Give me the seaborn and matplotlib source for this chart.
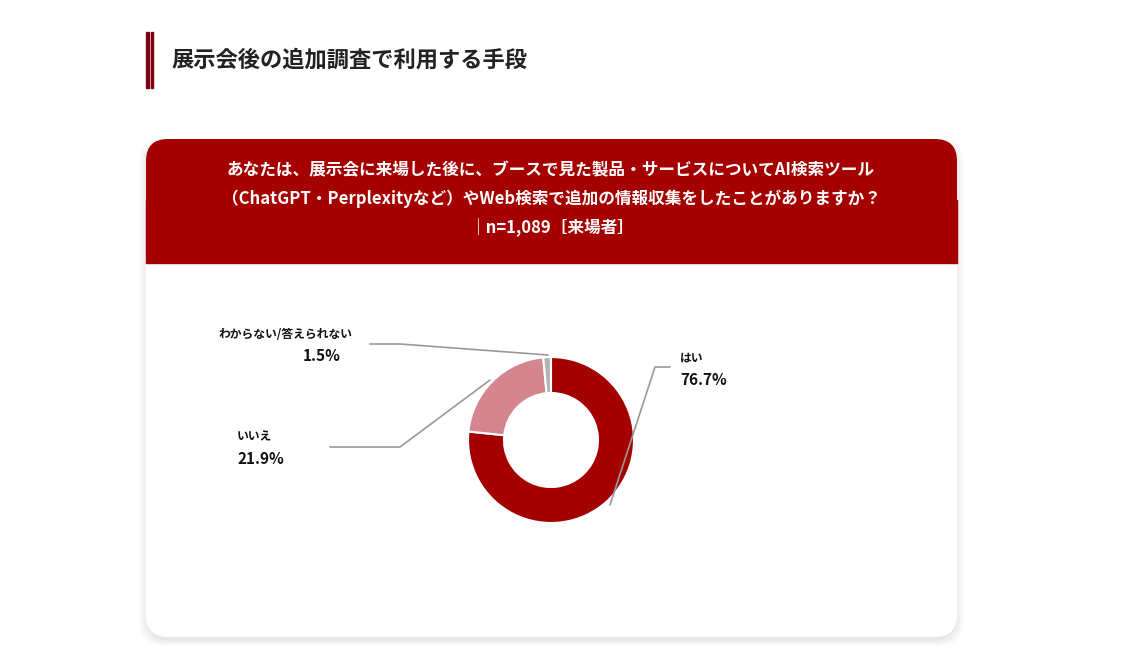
import matplotlib
matplotlib.use("Agg")
import matplotlib.pyplot as plt
from matplotlib.patches import FancyBboxPatch, Rectangle
import seaborn as sns

sns.set_theme(style="white")
plt.rcParams['font.family'] = ['Noto Sans CJK JP', 'DejaVu Sans']

title = "展示会後の追加調査で利用する手段"
question = ["あなたは、展示会に来場した後に、ブースで見た製品・サービスについてAI検索ツール",
            "（ChatGPT・Perplexityなど）やWeb検索で追加の情報収集をしたことがありますか？",
            "｜n=1,089［来場者］"]
labels = ["はい", "いいえ", "わからない/答えられない"]
values = [76.7, 21.9, 1.5]
colors = ["#A50000", "#D4858E", "#B4B4B4"]

W, H = 1124, 660
fig = plt.figure(figsize=(W / 100, H / 100), dpi=100)
ax = fig.add_axes([0, 0, 1, 1])
ax.set_xlim(0, W)
ax.set_ylim(H, 0)
ax.set_aspect("equal")
ax.axis("off")

# page title with bar
ax.add_patch(Rectangle((146, 32), 3, 56, color="#7A0010"))
ax.add_patch(Rectangle((151, 32), 1.5, 56, color="#7A0010"))
ax.text(172, 60, title, fontsize=16, fontweight="bold", color="#222222", va="center")

# card with shadow
for i, a in enumerate([0.03, 0.03, 0.03]):
    ax.add_patch(FancyBboxPatch((146 - 3 * i, 139 + 4 - 2 * i), 811 + 6 * i, 498 + 4 * i,
                                boxstyle="round,pad=0,rounding_size=24", fc="black", ec="none", alpha=a))
ax.add_patch(FancyBboxPatch((146, 139), 811, 498, boxstyle="round,pad=0,rounding_size=22",
                            fc="white", ec="none"))
ax.add_patch(FancyBboxPatch((146, 139), 811, 124, boxstyle="round,pad=0,rounding_size=22",
                            fc="#A50000", ec="none"))
ax.add_patch(Rectangle((146, 200), 811, 63, color="#A50000"))
for k, line in enumerate(question):
    ax.text(551, 170 + 29 * k, line, fontsize=12, fontweight="bold", color="white",
            ha="center", va="center")

# donut
ax.pie(values, colors=colors, center=(551, 440), radius=83, startangle=-90, counterclock=True,
       wedgeprops=dict(width=36, edgecolor="white", linewidth=1.5), frame=True)
ax.set_xlim(0, W)
ax.set_ylim(H, 0)
ax.axis("off")

lc = "#999999"
ax.plot([610, 655, 670], [505, 367, 367], color=lc, lw=1.2)
ax.plot([330, 400, 490], [447, 447, 380], color=lc, lw=1.2)
ax.plot([370, 400, 548], [344, 344, 355], color=lc, lw=1.2)

ax.text(680, 358, labels[0], fontsize=8.5, fontweight="bold", color="#111111", va="center")
ax.text(680, 380, f"{values[0]}%", fontsize=11, fontweight="bold", color="#111111", va="center")
ax.text(237, 437, labels[1], fontsize=8.5, fontweight="bold", color="#111111", va="center")
ax.text(237, 459, f"{values[1]}%", fontsize=11, fontweight="bold", color="#111111", va="center")
ax.text(352, 334, labels[2], fontsize=8.5, fontweight="bold", color="#111111", va="center", ha="right")
ax.text(341, 356, f"{values[2]}%", fontsize=11, fontweight="bold", color="#111111", va="center", ha="right")

fig.savefig("out.png", dpi=100)
